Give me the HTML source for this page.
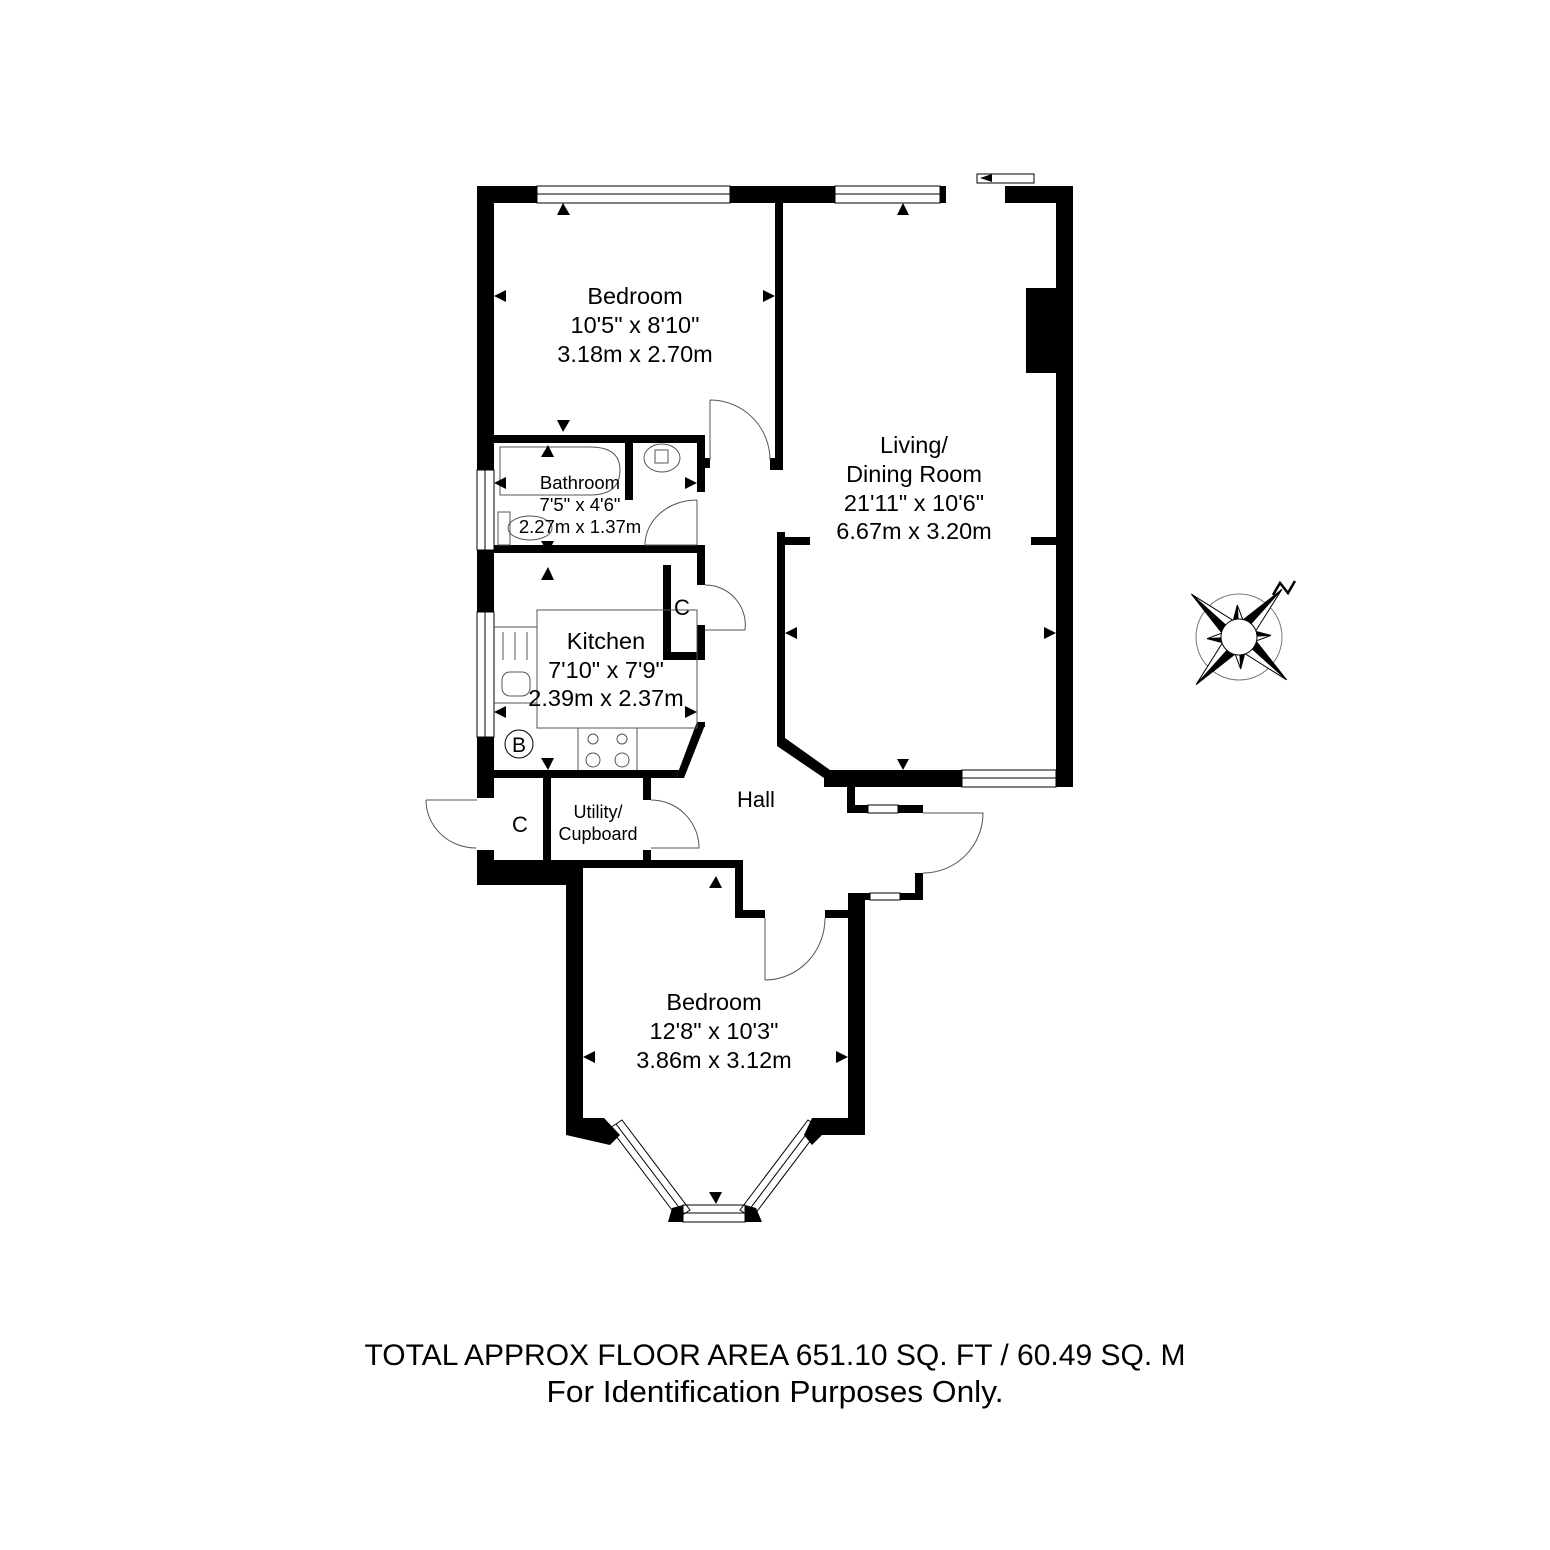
<!DOCTYPE html>
<html><head><style>body{margin:0;background:#fff}svg{display:block}text{font-family:"Liberation Sans",Arial,sans-serif;fill:#000;text-anchor:middle}</style></head><body>
<svg width="1550" height="1550" viewBox="0 0 1550 1550" xmlns="http://www.w3.org/2000/svg">
<g fill="#000">
<rect x="477" y="186" width="60" height="17"/>
<rect x="730" y="186" width="105" height="17"/>
<rect x="940" y="186" width="6" height="17"/>
<rect x="1005" y="186" width="68" height="17"/>
<rect x="1056" y="186" width="17" height="601"/>
<rect x="1026" y="288" width="30" height="85"/>
<rect x="477" y="186" width="17" height="284"/>
<rect x="477" y="550" width="17" height="62"/>
<rect x="477" y="737" width="17" height="61"/>
<rect x="477" y="850" width="17" height="35"/>
<rect x="477" y="868" width="93" height="17"/>
<rect x="775" y="203" width="8" height="267"/>
<rect x="770" y="458" width="13" height="12"/>
<rect x="494" y="435" width="211" height="8"/>
<rect x="625" y="435" width="8" height="65"/>
<rect x="697" y="435" width="8" height="57"/>
<rect x="705" y="458" width="5" height="10"/>
<rect x="494" y="545" width="211" height="8"/>
<rect x="697" y="545" width="8" height="40"/>
<rect x="663" y="565" width="8" height="95"/>
<rect x="663" y="652" width="42" height="8"/>
<rect x="697" y="625" width="8" height="35"/>
<rect x="697" y="722" width="8" height="5"/>
<polygon points="494,770 684,770 705,725 697,722 676,778 494,778"/>
<polygon points="697,722 705,725 684,778 676,778"/>
<rect x="543" y="778" width="8" height="90"/>
<rect x="643" y="778" width="8" height="22"/>
<rect x="643" y="850" width="8" height="18"/>
<rect x="494" y="860" width="249" height="8"/>
<rect x="735" y="860" width="8" height="58"/>
<rect x="735" y="910" width="30" height="8"/>
<rect x="825" y="910" width="30" height="8"/>
<rect x="777" y="532" width="8" height="210"/>
<rect x="777" y="537" width="33" height="8"/>
<rect x="1031" y="537" width="25" height="8"/>
<polygon points="777,738 785,738 830,770 830,778 824,778 777,746"/>
<rect x="824" y="770" width="138" height="17"/>
<rect x="847" y="787" width="8" height="26"/>
<rect x="847" y="805" width="21" height="8"/>
<rect x="898" y="805" width="25" height="8"/>
<rect x="915" y="873" width="8" height="27"/>
<rect x="848" y="893" width="22" height="7"/>
<rect x="900" y="893" width="23" height="7"/>
<rect x="566" y="868" width="17" height="267"/>
<rect x="848" y="893" width="17" height="242"/>
<polygon points="566,1118 604,1118 620,1135 610,1145 566,1135"/>
<polygon points="812,1118 865,1118 865,1135 822,1135 812,1145 804,1135"/>
<polygon points="672,1208 683,1205 683,1222 668,1222"/>
<polygon points="745,1205 756,1208 762,1222 745,1222"/>
</g>
<g fill="#fff" stroke="#000" stroke-width="1">
<rect x="537" y="186" width="193" height="17"/><line x1="537" y1="194" x2="730" y2="194"/>
<rect x="835" y="186" width="105" height="17"/><line x1="835" y1="194" x2="940" y2="194"/>
<rect x="962" y="770" width="94" height="17"/><line x1="962" y1="778" x2="1056" y2="778"/>
<rect x="477" y="470" width="17" height="80"/><line x1="485" y1="470" x2="485" y2="550"/>
<rect x="477" y="612" width="17" height="125"/><line x1="485" y1="612" x2="485" y2="737"/>
<rect x="868" y="805" width="30" height="8"/>
<rect x="870" y="893" width="30" height="7"/>
<rect x="683" y="1205" width="62" height="17"/><line x1="683" y1="1213" x2="745" y2="1213"/>
<rect x="977" y="174" width="57" height="9"/>
</g>
<g fill="none" stroke="#000" stroke-width="1">
<polygon points="610,1128 622,1120 690,1210 678,1218"/><line x1="616" y1="1124" x2="684" y2="1214"/>
<polygon points="808,1120 820,1128 752,1218 740,1210"/><line x1="814" y1="1124" x2="746" y2="1214"/>
<line x1="980" y1="174" x2="1034" y2="174"/>
</g>
<g fill="none" stroke="#555" stroke-width="1">
<path d="M710,400 L710,460 M710,400 A60,60 0 0 1 770,460"/>
<path d="M697,500 L697,545 L645,545 A52,45 0 0 1 697,500"/>
<path d="M705,585 A40,40 0 0 1 745,630 L705,630"/>
<path d="M651,800 A48,48 0 0 1 699,848 L651,848"/>
<path d="M426,800 L477,800 M426,800 A50,48 0 0 0 476,848"/>
<path d="M923,813 L983,813 A60,60 0 0 1 923,873"/>
<path d="M765,918 L765,980 A60,62 0 0 0 825,918"/>
<path d="M500,447 L590,447 Q620,447 620,470 Q620,495 590,495 L500,495 Z"/>
<path d="M498,512 L510,512 L510,545 L498,545 Z"/>
<ellipse cx="530" cy="528" rx="22" ry="12"/>
<ellipse cx="662" cy="458" rx="18" ry="14"/>
<rect x="655" y="450" width="13" height="13"/>
<rect x="537" y="610" width="160" height="118"/>
<line x1="494" y1="627" x2="537" y2="627"/><line x1="494" y1="703" x2="537" y2="703"/>
<line x1="503" y1="632" x2="503" y2="660"/><line x1="515" y1="632" x2="515" y2="660"/><line x1="527" y1="632" x2="527" y2="660"/>
<rect x="502" y="672" width="28" height="24" rx="8"/>
<line x1="578" y1="728" x2="578" y2="770"/><line x1="637" y1="728" x2="637" y2="770"/>
<circle cx="519" cy="744" r="14" stroke="#000"/>
<circle cx="593" cy="739" r="5"/><circle cx="622" cy="739" r="5"/><circle cx="593" cy="760" r="7"/><circle cx="622" cy="760" r="7"/>
<circle cx="1239" cy="637" r="43" stroke="#777"/>
</g>
<!-- compass star -->
<g transform="translate(1239,637) rotate(-48)" stroke="#000" stroke-width="1">
<g id="maj"><polygon points="0,0 64,0 12,-9" fill="#000"/><polygon points="0,0 64,0 12,9" fill="#fff"/></g>
<g transform="rotate(90)"><polygon points="0,0 64,0 12,-9" fill="#000"/><polygon points="0,0 64,0 12,9" fill="#fff"/></g>
<g transform="rotate(180)"><polygon points="0,0 64,0 12,-9" fill="#000"/><polygon points="0,0 64,0 12,9" fill="#fff"/></g>
<g transform="rotate(270)"><polygon points="0,0 64,0 12,-9" fill="#000"/><polygon points="0,0 64,0 12,9" fill="#fff"/></g>
<g transform="rotate(45)"><polygon points="0,0 32,0 10,-7" fill="#000"/><polygon points="0,0 32,0 10,7" fill="#fff"/></g>
<g transform="rotate(135)"><polygon points="0,0 32,0 10,-7" fill="#000"/><polygon points="0,0 32,0 10,7" fill="#fff"/></g>
<g transform="rotate(225)"><polygon points="0,0 32,0 10,-7" fill="#000"/><polygon points="0,0 32,0 10,7" fill="#fff"/></g>
<g transform="rotate(315)"><polygon points="0,0 32,0 10,-7" fill="#000"/><polygon points="0,0 32,0 10,7" fill="#fff"/></g>
<circle cx="0" cy="0" r="18" fill="#fff"/>
</g>
<g fill="#000">
<polygon points="557,215 570,215 563,203"/>
<polygon points="897,215 909,215 903,203"/>
<polygon points="494,296 506,290 506,302"/><polygon points="775,296 763,290 763,302"/>
<polygon points="557,420 570,420 563,432"/><polygon points="541,457 554,457 548,445"/>
<polygon points="494,483 506,477 506,489"/><polygon points="697,483 685,477 685,489"/>
<polygon points="541,541 554,541 548,553"/>
<polygon points="541,580 554,580 548,567"/>
<polygon points="494,712 506,706 506,718"/><polygon points="697,712 685,706 685,718"/>
<polygon points="541,758 554,758 548,770"/>
<polygon points="785,633 797,627 797,639"/><polygon points="1056,633 1044,627 1044,639"/>
<polygon points="897,759 909,759 903,770"/>
<polygon points="709,888 722,888 716,876"/>
<polygon points="583,1057 595,1051 595,1063"/><polygon points="848,1057 836,1051 836,1063"/>
<polygon points="709,1192 722,1192 716,1204"/>
<polygon points="980,178 992,174 992,182"/>
</g>
<path d="M1273,595 L1280,583 L1288,593 L1295,581" fill="none" stroke="#000" stroke-width="2.5"/>
<text x="635" y="304" font-size="23.5">Bedroom</text>
<text x="635" y="333" font-size="23.5">10'5" x 8'10"</text>
<text x="635" y="362" font-size="23.5">3.18m x 2.70m</text>
<text x="914" y="453" font-size="23.5">Living/</text>
<text x="914" y="482" font-size="23.5">Dining Room</text>
<text x="914" y="511" font-size="23.5">21'11" x 10'6"</text>
<text x="914" y="539" font-size="23.5">6.67m x 3.20m</text>
<text x="580" y="489" font-size="18.5">Bathroom</text>
<text x="580" y="511" font-size="18.5">7'5" x 4'6"</text>
<text x="580" y="533" font-size="18.5">2.27m x 1.37m</text>
<text x="682" y="615" font-size="22">C</text>
<text x="606" y="649" font-size="23.5">Kitchen</text>
<text x="606" y="678" font-size="23.5">7'10" x 7'9"</text>
<text x="606" y="706" font-size="23.5">2.39m x 2.37m</text>
<text x="519" y="752" font-size="21">B</text>
<text x="520" y="832" font-size="22">C</text>
<text x="598" y="818" font-size="18">Utility/</text>
<text x="598" y="840" font-size="18">Cupboard</text>
<text x="756" y="807" font-size="22">Hall</text>
<text x="714" y="1010" font-size="23.5">Bedroom</text>
<text x="714" y="1039" font-size="23.5">12'8" x 10'3"</text>
<text x="714" y="1068" font-size="23.5">3.86m x 3.12m</text>
<text x="775" y="1365" font-size="30" textLength="821" lengthAdjust="spacingAndGlyphs">TOTAL APPROX FLOOR AREA 651.10 SQ. FT / 60.49 SQ. M</text>
<text x="775" y="1402" font-size="31" textLength="457" lengthAdjust="spacingAndGlyphs">For Identification Purposes Only.</text>
</svg>
</body></html>
